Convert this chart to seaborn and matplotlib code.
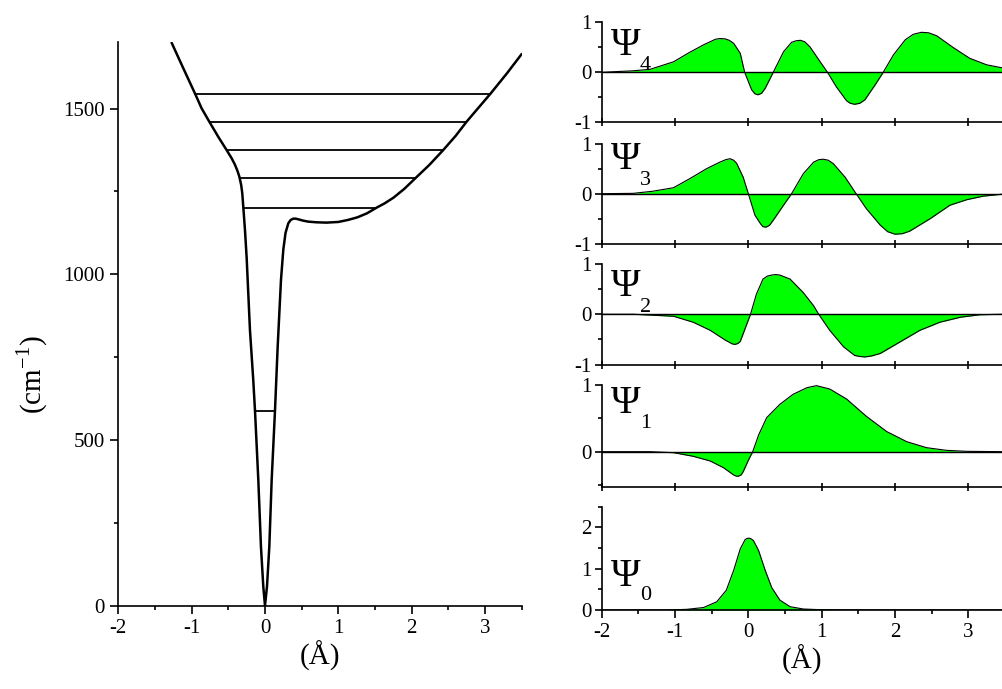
import matplotlib
matplotlib.use("Agg")
import matplotlib.pyplot as plt
from matplotlib.ticker import MultipleLocator
import seaborn as sns

# potential energy curve: displacement (Å) and energy (cm-1)
pot_x = [-1.273, -1.114, -0.955, -0.864, -0.76, -0.637, -0.523, -0.454, -0.41, -0.375,
         -0.35, -0.325, -0.31, -0.296, -0.273, -0.25, -0.205, -0.16, -0.136, -0.091,
         -0.055, -0.023, 0.0, 0.027, 0.059, 0.091, 0.136, 0.173, 0.218, 0.25, 0.28,
         0.318, 0.35, 0.386, 0.42, 0.455, 0.52, 0.59, 0.7, 0.84, 1.0, 1.13, 1.26, 1.39,
         1.52, 1.63, 1.75, 1.9, 2.05, 2.24, 2.43, 2.6, 2.75, 2.9, 3.07, 3.3, 3.5]
pot_e = [1699, 1622, 1546, 1501, 1461, 1415, 1375, 1350, 1331, 1312,
         1295, 1270, 1245, 1204, 1134, 1050, 832, 681, 587, 379,
         178, 57, 0, 57, 178, 379, 587, 782, 983, 1075, 1125,
         1154, 1164, 1168, 1168, 1166, 1162, 1159, 1157, 1156, 1158, 1164, 1172, 1184,
         1201, 1214, 1231, 1258, 1290, 1330, 1375, 1418, 1461, 1500, 1544, 1607, 1665]

# vibrational levels and their turning points
level_e = [587, 1201, 1290, 1375, 1461, 1544]
level_left = [-0.136, -0.292, -0.348, -0.523, -0.76, -0.955]
level_right = [0.136, 1.52, 2.05, 2.43, 2.75, 3.07]

# wavefunctions
x_psi4 = [-2.0, -1.57, -1.34, -1.02, -0.8, -0.61, -0.45, -0.39, -0.32, -0.26, -0.2,
          -0.11, -0.05, 0.045, 0.09, 0.13, 0.18, 0.23, 0.34, 0.48, 0.59, 0.65, 0.71,
          0.77, 0.84, 0.98, 1.08, 1.2, 1.34, 1.39, 1.45, 1.52, 1.59, 1.73, 1.84, 1.98,
          2.14, 2.25, 2.36, 2.46, 2.57, 2.8, 3.02, 3.25, 3.46]
psi4 = [0.0, 0.03, 0.06, 0.21, 0.4, 0.55, 0.66, 0.675, 0.67, 0.64, 0.58,
        0.38, 0.0, -0.35, -0.43, -0.45, -0.42, -0.32, 0.0, 0.41, 0.6, 0.63, 0.64,
        0.61, 0.51, 0.21, 0.0, -0.29, -0.57, -0.62, -0.64, -0.62, -0.55, -0.25, 0.0, 0.35,
        0.65, 0.76, 0.8, 0.79, 0.73, 0.49, 0.28, 0.15, 0.09]

x_psi3 = [-2.0, -1.57, -1.3, -1.02, -0.8, -0.57, -0.39, -0.31, -0.25, -0.2, -0.16,
          -0.07, 0.0, 0.09, 0.17, 0.2, 0.24, 0.29, 0.34, 0.48, 0.59, 0.75, 0.89, 0.96,
          1.02, 1.09, 1.16, 1.32, 1.47, 1.61, 1.8, 1.9, 2.0, 2.1, 2.2, 2.48, 2.75, 2.98,
          3.2, 3.46]
psi3 = [0.0, 0.007, 0.05, 0.12, 0.3, 0.5, 0.63, 0.68, 0.7, 0.67, 0.61,
        0.33, 0.0, -0.43, -0.61, -0.66, -0.67, -0.63, -0.53, -0.23, 0.0, 0.4, 0.63, 0.68,
        0.69, 0.67, 0.6, 0.33, 0.0, -0.3, -0.63, -0.76, -0.81, -0.8, -0.75, -0.5, -0.23,
        -0.12, -0.05, -0.01]

x_psi2 = [-2.0, -1.57, -1.02, -0.75, -0.52, -0.32, -0.22, -0.18, -0.14, -0.11, -0.045,
          0.03, 0.11, 0.2, 0.26, 0.32, 0.37, 0.43, 0.57, 0.75, 0.89, 0.96, 1.11, 1.3,
          1.45, 1.52, 1.59, 1.68, 1.8, 2.07, 2.34, 2.61, 2.89, 3.16, 3.46]
psi2 = [0.0, 0.0, -0.04, -0.16, -0.32, -0.51, -0.59, -0.6, -0.58, -0.54, -0.29,
        0.0, 0.4, 0.7, 0.76, 0.78, 0.79, 0.78, 0.7, 0.43, 0.17, 0.0, -0.32, -0.65,
        -0.82, -0.84, -0.85, -0.83, -0.78, -0.55, -0.32, -0.16, -0.06, -0.01, 0.0]

x_psi1 = [-2.0, -1.34, -1.02, -0.75, -0.52, -0.34, -0.2, -0.17, -0.14, -0.1, -0.07,
          0.0, 0.06, 0.14, 0.25, 0.43, 0.61, 0.8, 0.93, 1.11, 1.34, 1.61, 1.89, 2.16,
          2.43, 2.7, 2.98, 3.46]
psi1 = [0.0, 0.0, -0.015, -0.07, -0.14, -0.24, -0.35, -0.365, -0.37, -0.35, -0.3,
        -0.13, 0.0, 0.25, 0.51, 0.71, 0.86, 0.96, 0.99, 0.94, 0.79, 0.53, 0.3, 0.15,
        0.06, 0.02, 0.005, 0.0]

x_psi0 = [-2.0, -1.11, -0.84, -0.61, -0.43, -0.3, -0.2, -0.11, -0.045, -0.02, 0.01,
          0.04, 0.07, 0.14, 0.23, 0.32, 0.43, 0.57, 0.75, 0.98, 1.43, 3.46]
psi0 = [0.0, 0.0, 0.016, 0.06, 0.2, 0.48, 0.96, 1.48, 1.7, 1.73, 1.74,
        1.72, 1.68, 1.44, 0.96, 0.54, 0.24, 0.08, 0.024, 0.008, 0.0, 0.0]

sns.set_theme(style="ticks")
plt.rcParams["font.family"] = ["Liberation Serif", "DejaVu Serif"]
plt.rcParams["mathtext.fontset"] = "custom"
plt.rcParams["mathtext.rm"] = "Liberation Serif"
plt.rcParams["axes.unicode_minus"] = False
plt.rcParams["axes.linewidth"] = 1.2
plt.rcParams["text.color"] = "black"
plt.rcParams["axes.labelcolor"] = "black"
plt.rcParams["axes.edgecolor"] = "black"
plt.rcParams["xtick.color"] = "black"
plt.rcParams["ytick.color"] = "black"

W, H = 1002, 689
fig = plt.figure(figsize=(W / 100, H / 100), dpi=100)


def box(l, t, r, b):
    return [l / W, 1 - b / H, (r - l) / W, (b - t) / H]


# ---- left: potential ----
ax = fig.add_axes(box(118.3, 42.4, 521.7, 605.6))
sns.lineplot(x=pot_x, y=pot_e, sort=False, estimator=None, color="black", lw=1.8, ax=ax)
ax.hlines(level_e, level_left, level_right, color="black", lw=1.3)
ax.set_xlim(-2, 3.5)
ax.set_ylim(0, 1700)
ax.xaxis.set_major_locator(MultipleLocator(1))
ax.xaxis.set_minor_locator(MultipleLocator(0.5))
ax.yaxis.set_major_locator(MultipleLocator(500))
ax.yaxis.set_minor_locator(MultipleLocator(250))
ax.tick_params(which="major", direction="out", length=6, width=1.2, labelsize=15)
ax.tick_params(which="minor", direction="out", length=3, width=1.2)
sns.despine(ax=ax)
ax.set_xlabel("(Å)", fontsize=21, labelpad=2)
ax.set_ylabel("(cm$^{-1}$)", fontsize=21)
ax.yaxis.set_label_coords(-0.17, 0.41)

# ---- right: wavefunctions ----
panels = [
    (x_psi4, psi4, "4", (22.3, 122.3), (-1, 1)),
    (x_psi3, psi3, "3", (143.7, 243.7), (-1, 1)),
    (x_psi2, psi2, "2", (264.0, 364.5), (-1, 1)),
    (x_psi1, psi1, "1", (385.0, 487.0), (-0.53, 1)),
    (x_psi0, psi0, "0", (506.7, 610.0), (0, 2.5)),
]
glyph_base = [55, 169, 296, 413, 586]
sub_base = [70, 185, 312, 428, 600]

for i, (xs, ys, n, (top, bot), ylim) in enumerate(panels):
    a = fig.add_axes(box(601.7, top, 1002, bot))
    a.fill_between(xs, ys, 0, color="#00ff00", lw=0)
    sns.lineplot(x=xs, y=ys, sort=False, estimator=None, color="black", lw=0.8, ax=a)
    a.axhline(0, color="black", lw=1.0)
    a.set_xlim(-2, 3.46)
    a.set_ylim(*ylim)
    a.xaxis.set_major_locator(MultipleLocator(1))
    a.yaxis.set_major_locator(MultipleLocator(1))
    a.yaxis.set_minor_locator(MultipleLocator(0.5))
    sns.despine(ax=a)
    a.tick_params(axis="y", which="major", direction="out", length=5, width=1.2,
                  labelsize=15, pad=2)
    a.tick_params(axis="y", which="minor", direction="out", length=3, width=1.2)
    if n == "0":
        a.xaxis.set_minor_locator(MultipleLocator(0.5))
        a.tick_params(axis="x", which="major", direction="out", length=6, width=1.2,
                      labelsize=15)
        a.tick_params(axis="x", which="minor", direction="out", length=3, width=1.2)
        a.set_xlabel("(Å)", fontsize=21, labelpad=2)
    else:
        a.tick_params(axis="x", which="major", direction="inout", length=6, width=1.2,
                      labelbottom=False)
    a.set_ylabel("")
    fig.text(611 / W, 1 - glyph_base[i] / H, "Ψ", fontsize=29, va="baseline", ha="left")
    fig.text(640 / W, 1 - sub_base[i] / H, n, fontsize=16, va="baseline", ha="left")

fig.savefig("out.png", dpi=100)
